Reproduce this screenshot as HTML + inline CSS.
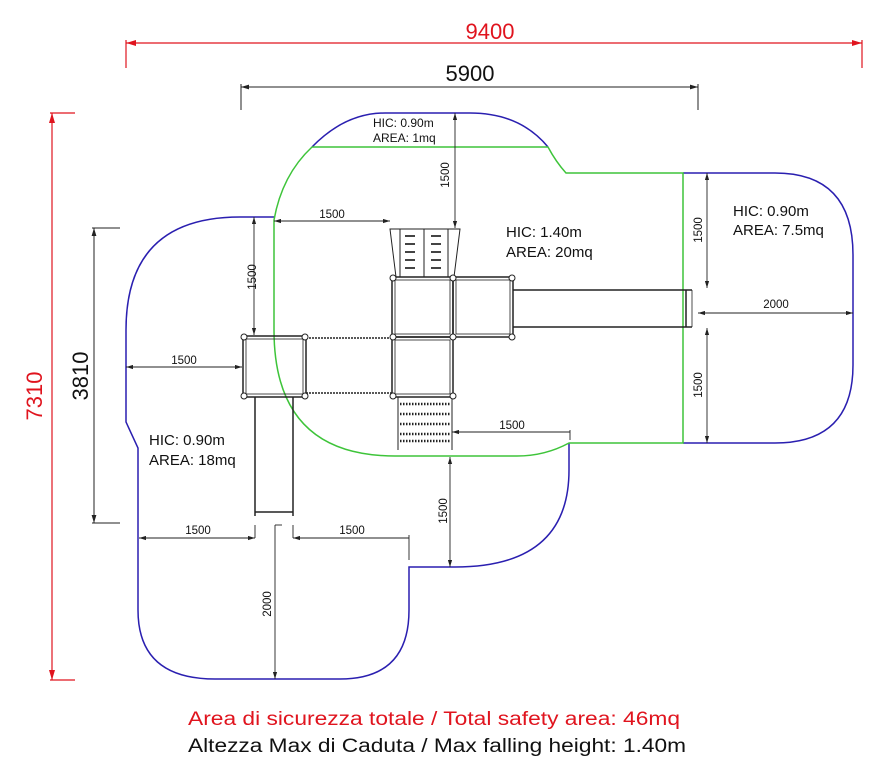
<!DOCTYPE html>
<html><head><meta charset="utf-8"><style>
html,body{margin:0;padding:0;background:#fff;}
svg{display:block;font-family:"Liberation Sans",Arial,sans-serif;}
</style></head><body>
<svg width="887" height="783" viewBox="0 0 887 783" xmlns="http://www.w3.org/2000/svg">
<defs>
<marker id="a" viewBox="0 0 10 6" refX="10" refY="3" markerWidth="8" markerHeight="5" orient="auto-start-reverse"><path d="M0,0L10,3L0,6z" fill="#222"/></marker>
<marker id="r" viewBox="0 0 10 6" refX="10" refY="3" markerWidth="9" markerHeight="5" orient="auto-start-reverse"><path d="M0,0L10,3L0,6z" fill="#e0141e"/></marker>
</defs>
<rect width="887" height="783" fill="#fff"/>
<!-- red dims -->
<g stroke="#e0141e" stroke-width="1.2" fill="none">
<line x1="126" y1="43" x2="862" y2="43" marker-start="url(#r)" marker-end="url(#r)"/>
<line x1="126" y1="40" x2="126" y2="68"/><line x1="862" y1="40" x2="862" y2="68"/>
<line x1="52" y1="113" x2="52" y2="680" marker-start="url(#r)" marker-end="url(#r)"/>
<line x1="50" y1="113" x2="75" y2="113"/><line x1="50" y1="680" x2="75" y2="680"/>
</g>
<text x="490" y="39" font-size="22" fill="#e0141e" text-anchor="middle">9400</text>
<text transform="translate(42,396) rotate(-90)" font-size="22" fill="#e0141e" text-anchor="middle">7310</text>
<!-- black main dims -->
<g stroke="#222" stroke-width="1" fill="none">
<line x1="241" y1="87" x2="698" y2="87" marker-start="url(#a)" marker-end="url(#a)"/>
<line x1="241" y1="84" x2="241" y2="110"/><line x1="698" y1="84" x2="698" y2="110"/>
<line x1="94" y1="228" x2="94" y2="523" marker-start="url(#a)" marker-end="url(#a)"/>
<line x1="92" y1="228" x2="120" y2="228"/><line x1="92" y1="523" x2="120" y2="523"/>
</g>
<text x="470" y="81" font-size="22" fill="#111" text-anchor="middle">5900</text>
<text transform="translate(88,376) rotate(-90)" font-size="22" fill="#111" text-anchor="middle">3810</text>
<!-- purple boundary -->
<g stroke="#2a1fb0" stroke-width="1.5" fill="none">
<path d="M312,147 Q345,113 385,113 L470,113 Q520,113 548,147"/>
<path d="M683,173 L775,173 Q853,173 853,255 L853,365 Q853,443 775,443 L683,443"/>
<path d="M569,443 L569,470 Q569,567 455,567 L409,567 L409,610 Q409,679 340,679 L215,679 Q138,679 138,610 L138,448 L126,422 L126,330 Q126,217 240,217 L274,217"/>
</g>
<!-- green -->
<g stroke="#3ec43a" stroke-width="1.5" fill="none">
<line x1="312" y1="147" x2="548" y2="147"/>
<path d="M548,147 Q556,162 566,173 L683,173 L683,443 L569,443 Q545,456 517,456 L395,456 Q274,456 274,330 L274,220 Q282,175 312,147"/>
</g>
<!-- small dims -->
<g stroke="#222" stroke-width="0.9" fill="none">
<line x1="455" y1="113" x2="455" y2="228" marker-start="url(#a)" marker-end="url(#a)"/>
<line x1="274" y1="221" x2="390" y2="221" marker-start="url(#a)" marker-end="url(#a)"/>
<line x1="254" y1="217" x2="254" y2="335" marker-start="url(#a)" marker-end="url(#a)"/>
<line x1="126" y1="367" x2="242" y2="367" marker-start="url(#a)" marker-end="url(#a)"/>
<line x1="707" y1="173" x2="707" y2="288" marker-start="url(#a)" marker-end="url(#a)"/>
<line x1="707" y1="328" x2="707" y2="443" marker-start="url(#a)" marker-end="url(#a)"/>
<line x1="698" y1="313" x2="853" y2="313" marker-start="url(#a)" marker-end="url(#a)"/>
<line x1="452" y1="432" x2="570" y2="432" marker-start="url(#a)"/>
<line x1="570" y1="430" x2="570" y2="440"/>
<line x1="450" y1="457" x2="450" y2="567" marker-start="url(#a)" marker-end="url(#a)"/>
<line x1="139" y1="538" x2="255" y2="538" marker-start="url(#a)" marker-end="url(#a)"/>
<line x1="293" y1="538" x2="409" y2="538" marker-start="url(#a)"/>
<line x1="409" y1="535" x2="409" y2="560"/>
<line x1="255" y1="525" x2="255" y2="538"/><line x1="293" y1="525" x2="293" y2="538"/>
<line x1="275" y1="525" x2="275" y2="679" marker-end="url(#a)"/>
<line x1="275" y1="525" x2="282" y2="525"/>
</g>
<g font-size="11.5" fill="#111" text-anchor="middle">
<text transform="translate(449,175) rotate(-90)">1500</text>
<text x="332" y="218">1500</text>
<text transform="translate(256,277) rotate(-90)">1500</text>
<text x="184" y="364">1500</text>
<text transform="translate(702,230) rotate(-90)">1500</text>
<text transform="translate(702,385) rotate(-90)">1500</text>
<text x="776" y="308">2000</text>
<text x="512" y="429">1500</text>
<text transform="translate(447,511) rotate(-90)">1500</text>
<text x="198" y="534">1500</text>
<text x="352" y="534">1500</text>
<text transform="translate(271,604) rotate(-90)">2000</text>
</g>
<!-- area labels -->
<g fill="#111">
<text x="373" y="127" font-size="12">HIC: 0.90m</text>
<text x="373" y="142" font-size="12">AREA: 1mq</text>
<text x="506" y="237" font-size="15">HIC: 1.40m</text>
<text x="506" y="257" font-size="15">AREA: 20mq</text>
<text x="733" y="216" font-size="15">HIC: 0.90m</text>
<text x="733" y="235" font-size="15">AREA: 7.5mq</text>
<text x="149" y="445" font-size="15">HIC: 0.90m</text>
<text x="149" y="465" font-size="15">AREA: 18mq</text>
</g>
<!-- structure -->
<g stroke="#222" stroke-width="1.5" fill="none">
<!-- climbing wall -->
<path d="M390,229 L460,229 L454,277 L396,277 Z" stroke-width="1"/>
<rect x="400" y="229" width="48" height="48" stroke-width="1"/>
<line x1="424" y1="229" x2="424" y2="277" stroke-width="1"/>
<!-- decks -->
<rect x="243" y="336" width="63" height="61"/>
<rect x="392" y="277" width="61" height="60"/>
<rect x="453" y="277" width="60" height="60"/>
<rect x="392" y="337" width="61" height="60"/>
<rect x="246" y="339" width="57" height="55" stroke-width="0.8"/>
<rect x="395" y="280" width="55" height="54" stroke-width="0.8"/>
<rect x="456" y="280" width="54" height="54" stroke-width="0.8"/>
<rect x="395" y="340" width="55" height="54" stroke-width="0.8"/>
<!-- bridge -->
<line x1="306" y1="338" x2="392" y2="338" stroke-dasharray="2 1"/>
<line x1="306" y1="393" x2="392" y2="393" stroke-dasharray="2 1"/>
<!-- right slide -->
<line x1="513" y1="290" x2="692" y2="290"/>
<line x1="513" y1="327" x2="692" y2="327"/>
<line x1="686" y1="290" x2="686" y2="327"/>
<line x1="692" y1="290" x2="692" y2="327" stroke-width="0.8"/>
<!-- left slide -->
<line x1="255" y1="397" x2="255" y2="516"/>
<line x1="293" y1="397" x2="293" y2="516"/>
<line x1="255" y1="512" x2="293" y2="512"/>
<!-- steps -->
<line x1="398" y1="397" x2="398" y2="450" stroke-width="1"/>
<line x1="452" y1="397" x2="452" y2="450" stroke-width="1"/>
</g>
<g stroke="#222" stroke-width="2.5" stroke-dasharray="1.5 1.5">
<line x1="400" y1="404" x2="450" y2="404"/>
<line x1="400" y1="414" x2="450" y2="414"/>
<line x1="400" y1="424" x2="450" y2="424"/>
<line x1="400" y1="434" x2="450" y2="434"/>
<line x1="400" y1="441" x2="450" y2="441"/>
</g>
<g fill="#444">
<rect x="405" y="235" width="10" height="2"/><rect x="405" y="243" width="10" height="2"/><rect x="405" y="251" width="10" height="2"/><rect x="405" y="259" width="10" height="2"/><rect x="405" y="267" width="10" height="2"/>
<rect x="431" y="235" width="10" height="2"/><rect x="431" y="243" width="10" height="2"/><rect x="431" y="251" width="10" height="2"/><rect x="431" y="259" width="10" height="2"/><rect x="431" y="267" width="10" height="2"/>
</g>
<g fill="#fff" stroke="#222" stroke-width="1">
<circle cx="244" cy="337" r="3"/><circle cx="305" cy="337" r="3"/><circle cx="244" cy="396" r="3"/><circle cx="305" cy="396" r="3"/>
<circle cx="393" cy="278" r="3"/><circle cx="453" cy="278" r="3"/><circle cx="512" cy="278" r="3"/>
<circle cx="393" cy="337" r="3"/><circle cx="453" cy="337" r="3"/><circle cx="512" cy="337" r="3"/>
<circle cx="393" cy="396" r="3"/><circle cx="453" cy="396" r="3"/>
</g>
<!-- footer -->
<text x="188" y="725" font-size="19" fill="#e0141e" textLength="492" lengthAdjust="spacingAndGlyphs">Area di sicurezza totale / Total safety area: 46mq</text>
<text x="188" y="752" font-size="19" fill="#111" textLength="498" lengthAdjust="spacingAndGlyphs">Altezza Max di Caduta / Max falling height: 1.40m</text>
</svg>
</body></html>
